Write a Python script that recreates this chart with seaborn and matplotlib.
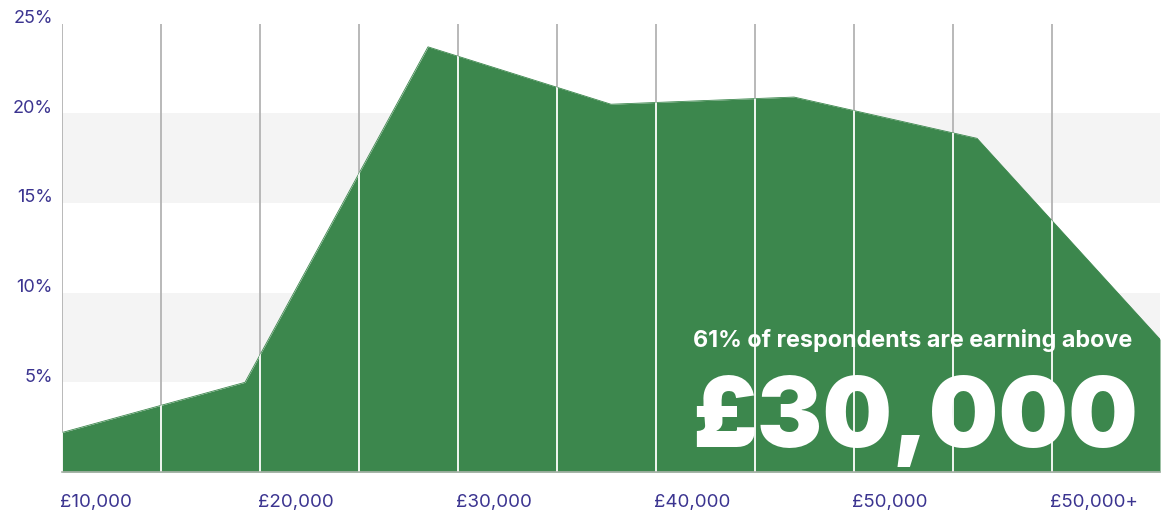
import matplotlib
matplotlib.use("Agg")
import matplotlib.pyplot as plt
import seaborn as sns
import pandas as pd

sns.set_theme(style="white")
plt.rcParams["font.family"] = ["Inter", "DejaVu Sans"]

# Share of respondents per salary band (%); the seven bands are spread evenly
# across the full width of the plot
share_pct = [2.2, 5.0, 23.7, 20.5, 20.9, 18.6, 7.4]

# Guide lines every £5,000 step; the plot runs slightly past the last one
grid_positions = list(range(11))
x_max = 1098 / 99
band_positions = [i * x_max / (len(share_pct) - 1) for i in range(len(share_pct))]

x_tick_positions = [0, 2, 4, 6, 8, 10]
x_tick_labels = ["£10,000", "£20,000", "£30,000", "£40,000", "£50,000", "£50,000+"]
y_tick_values = [5, 10, 15, 20, 25]
y_tick_labels = ["5%", "10%", "15%", "20%", "25%"]

GREEN = "#3c874d"
BAND = "#f4f4f4"
GRID = "#b3b3b3"
INK = "#3b3490"

df = pd.DataFrame({"pos": band_positions, "share": share_pct})

fig = plt.figure(figsize=(11.62, 5.12), dpi=100)
ax = fig.add_axes([62 / 1162, 40 / 512, (1160 - 62) / 1162, (472 - 23.5) / 512])
ax.set_xlim(0, x_max)
ax.set_ylim(0, 25)

# Alternating shaded bands
for lo, hi in [(5, 10), (15, 20)]:
    ax.axhspan(lo, hi, color=BAND, lw=0, zorder=0)

# Vertical guide lines behind the area
ax.vlines(grid_positions, 0, 25, color=GRID, lw=1.3, zorder=1)

# Filled area
sns.lineplot(data=df, x="pos", y="share", color=GREEN, lw=0.6, ax=ax, zorder=3)
poly = ax.fill_between(df["pos"], df["share"], 0, color=GREEN, lw=0, zorder=3)

# White guide lines visible only inside the area
wl = ax.vlines(grid_positions, 0, 25, color="white", lw=1.3, zorder=4)
wl.set_clip_path(poly.get_paths()[0], ax.transData)

# Axes styling
for side in ["top", "right", "left"]:
    ax.spines[side].set_visible(False)
ax.spines["bottom"].set_color("#a9b3a9")
ax.spines["bottom"].set_linewidth(1.2)
ax.spines["bottom"].set_zorder(5)
ax.set_xlabel("")
ax.set_ylabel("")
ax.set_xticks([])
ax.set_yticks([])

for v, lab in zip(y_tick_values, y_tick_labels):
    ax.annotate(lab, xy=(0, v), xycoords=("axes fraction", "data"),
                xytext=(-6.5, 0.5), textcoords="offset points",
                ha="right", va="baseline", fontsize=13, color=INK)

for p, lab in zip(x_tick_positions, x_tick_labels):
    ax.annotate(lab, xy=(p, 0), xycoords=("data", "axes fraction"),
                xytext=(-1.5, -25.5), textcoords="offset points",
                ha="left", va="baseline", fontsize=13.5, color=INK)

# Headline callout
ax.text(0.5747, 0.2787, "61% of respondents are earning above",
        transform=ax.transAxes, ha="left", va="baseline",
        fontsize=16.8, fontweight="bold", color="white", zorder=6)
ax.text(0.5738, 0.0557, "£30,000",
        transform=ax.transAxes, ha="left", va="baseline",
        fontsize=70.5, fontweight="black", color="white", zorder=6)

fig.savefig("out.png", dpi=100)
